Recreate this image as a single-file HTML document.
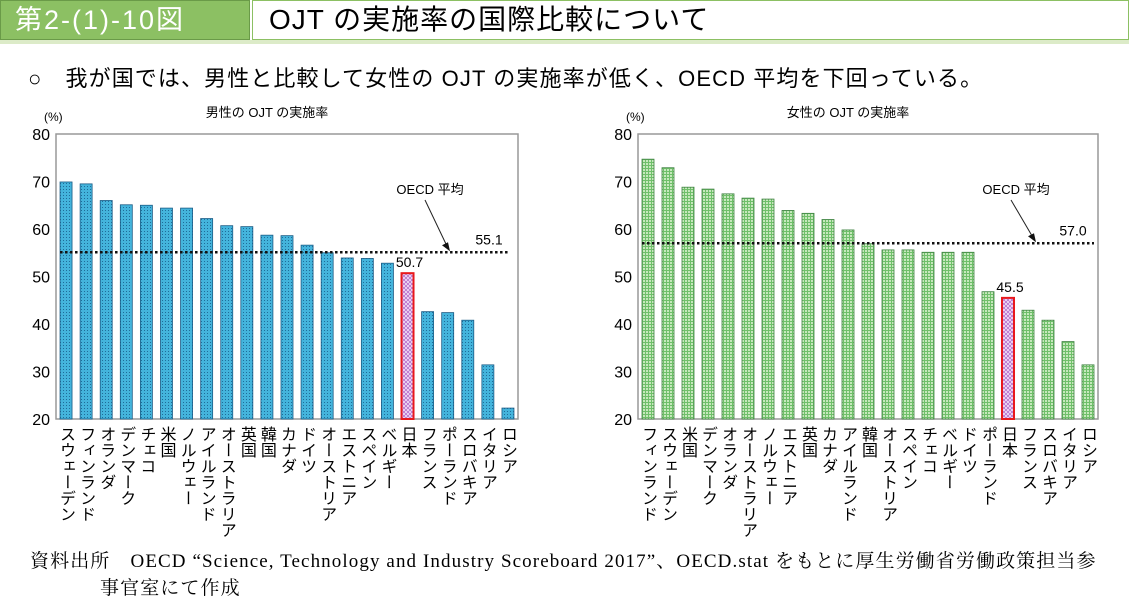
<!DOCTYPE html>
<html><head><meta charset="utf-8">
<style>
body{margin:0;width:1129px;height:603px;background:#fff;overflow:hidden;font-family:"Liberation Sans","Noto Sans CJK JP",sans-serif;position:relative}
.abs{position:absolute}
</style></head><body>
<div class="abs" style="left:0;top:0;width:250px;height:40px;background:#8cc063;border:1px solid #6a9a48;box-sizing:border-box;color:#fff;font-size:27px;line-height:38px;padding-left:14px;letter-spacing:2px">第2-(1)-10図</div>
<div class="abs" style="left:252px;top:0;width:877px;height:40px;border:1px solid #8cc063;box-sizing:border-box;font-size:28px;line-height:38px;padding-left:16px;letter-spacing:1px">OJT の実施率の国際比較について</div>
<div class="abs" style="left:0;top:40px;width:1129px;height:4px;background:#dcebc8"></div>
<div class="abs" style="left:28px;top:61px;font-size:22px;letter-spacing:1.1px">○　我が国では、男性と比較して女性の OJT の実施率が低く、OECD 平均を下回っている。</div>
<svg class="abs" style="left:0;top:0" width="1129" height="603" id="chart"></svg>
<div class="abs" style="left:30px;top:548px;font-family:'Liberation Serif','Noto Serif CJK SC',serif;font-size:19px;line-height:27px;letter-spacing:1.1px;white-space:nowrap">資料出所　OECD “Science, Technology and Industry Scoreboard 2017”、OECD.stat をもとに厚生労働省労働政策担当参<br><span style="padding-left:70px">事官室にて作成</span></div>
<script>
const maleCats=["スウェーデン","フィンランド","オランダ","デンマーク","チェコ","米国","ノルウェー","アイルランド","オーストラリア","英国","韓国","カナダ","ドイツ","オーストリア","エストニア","スペイン","ベルギー","日本","フランス","ポーランド","スロバキア","イタリア","ロシア"];
const maleVals=[69.9,69.5,66.0,65.1,65.0,64.4,64.4,62.2,60.7,60.5,58.7,58.6,56.6,55.0,53.9,53.8,52.8,50.7,42.6,42.4,40.8,31.4,22.3];
const maleAvg=55.1;
const femaleCats=["フィンランド","スウェーデン","米国","デンマーク","オランダ","オーストラリア","ノルウェー","エストニア","英国","カナダ","アイルランド","韓国","オーストリア","スペイン","チェコ","ベルギー","ドイツ","ポーランド","日本","フランス","スロバキア","イタリア","ロシア"];
const femaleVals=[74.7,72.9,68.8,68.4,67.4,66.5,66.3,63.9,63.3,62.0,59.8,56.9,55.6,55.6,55.1,55.1,55.1,46.8,45.5,42.9,40.8,36.3,31.4];
const femaleAvg=57.0;
const yTicks=[20,30,40,50,60,70,80];

const svg=document.getElementById('chart');
const NS='http://www.w3.org/2000/svg';
function mk(tag,attrs,parent){const e=document.createElementNS(NS,tag);for(const k in attrs)e.setAttribute(k,attrs[k]);(parent||svg).appendChild(e);return e;}
const defs=mk('defs',{});
defs.innerHTML=`<pattern id="pb" width="3" height="3" patternUnits="userSpaceOnUse"><rect width="3" height="3" fill="#44b4dc"/><rect width="1" height="1" fill="#1f6c98"/></pattern>
<pattern id="pg" width="3" height="3" patternUnits="userSpaceOnUse"><rect width="3" height="3" fill="#c6e8bc"/><rect width="3" height="1" fill="#6fbf6a"/><rect width="1" height="3" fill="#6fbf6a"/></pattern>
<pattern id="pj" width="4" height="4" patternUnits="userSpaceOnUse"><rect width="4" height="4" fill="#f0dff5"/><path d="M0 0L4 4M4 0L0 4" stroke="#b060c8" stroke-width="0.7"/></pattern>`;

function drawChart(name,x0,x1,cats,vals,avg,fill,stroke,title,avgLabelX,calloutX){
  const yTop=134,yBot=419,vMin=20,vMax=80;
  const y=v=>yBot-(v-vMin)/(vMax-vMin)*(yBot-yTop);
  const n=cats.length,step=(x1-x0)/n;
  const xc=i=>x0+step*(i+0.5);
  const g=mk('g',{});
  
  
  let t=mk('text',{x:(x0+x1)/2-20,y:117,'font-size':13,'text-anchor':'middle'},g);t.textContent=title;
  
  t=mk('text',{x:x0-12,y:121,'font-size':12},g);t.textContent='(%)';
  
  const fr=mk('rect',{x:x0,y:yTop,width:x1-x0,height:yBot-yTop,fill:'none',stroke:'#999','stroke-width':1.5},g);
  
  yTicks.forEach(v=>{const tt=mk('text',{x:x0-6,y:y(v)+6,'font-size':16,'text-anchor':'end'},g);tt.textContent=v;
    });
  vals.forEach((v,i)=>{
    const jp=cats[i]==='日本';
    const r=mk('rect',{x:xc(i)-6,y:y(v),width:12,height:yBot-y(v),fill:jp?'url(#pj)':fill,stroke:jp?'#e8181c':stroke,'stroke-width':jp?2:0.8},g);
    
    
    const lb=document.createElement('div');
    lb.className='abs';
    lb.style.cssText=`left:${xc(i)-9}px;top:426px;writing-mode:vertical-rl;text-orientation:upright;font-size:16px;line-height:17px;letter-spacing:0px`;
    lb.textContent=cats[i];
    
    
    document.body.appendChild(lb);
    if(jp){const vt=mk('text',{x:xc(i)+2,y:y(v)-6,'font-size':14,'text-anchor':'middle'},g);vt.textContent=v.toFixed(1);
      }
  });
  const ln=mk('line',{x1:xc(0)-6,x2:xc(n-1)+(name==='male-chart'?0:6),y1:y(avg),y2:y(avg),stroke:'#111','stroke-width':2.5,'stroke-dasharray':'2.5 2.5'},g);
  
  t=mk('text',{x:avgLabelX,y:y(avg)-8,'font-size':14,'text-anchor':'middle'},g);t.textContent=avg.toFixed(1);
  
  t=mk('text',{x:calloutX,y:194,'font-size':13,'text-anchor':'middle'},g);t.textContent='OECD 平均';
  
  const ar=mk('line',{x1:calloutX-5,y1:200,x2:calloutX+18,y2:y(avg)-4,stroke:'#222','stroke-width':1},g);
  
  const hd=mk('path',{d:`M${calloutX+20} ${y(avg)-1} l-8 -6 l6 -3 z`,fill:'#111'},g);
  
}
drawChart('male-chart',56,518,maleCats,maleVals,maleAvg,'url(#pb)','#1a5b85','男性の OJT の実施率',489,430);
drawChart('female-chart',638,1098,femaleCats,femaleVals,femaleAvg,'url(#pg)','#3d8040','女性の OJT の実施率',1073,1016);
</script>
</body></html>
